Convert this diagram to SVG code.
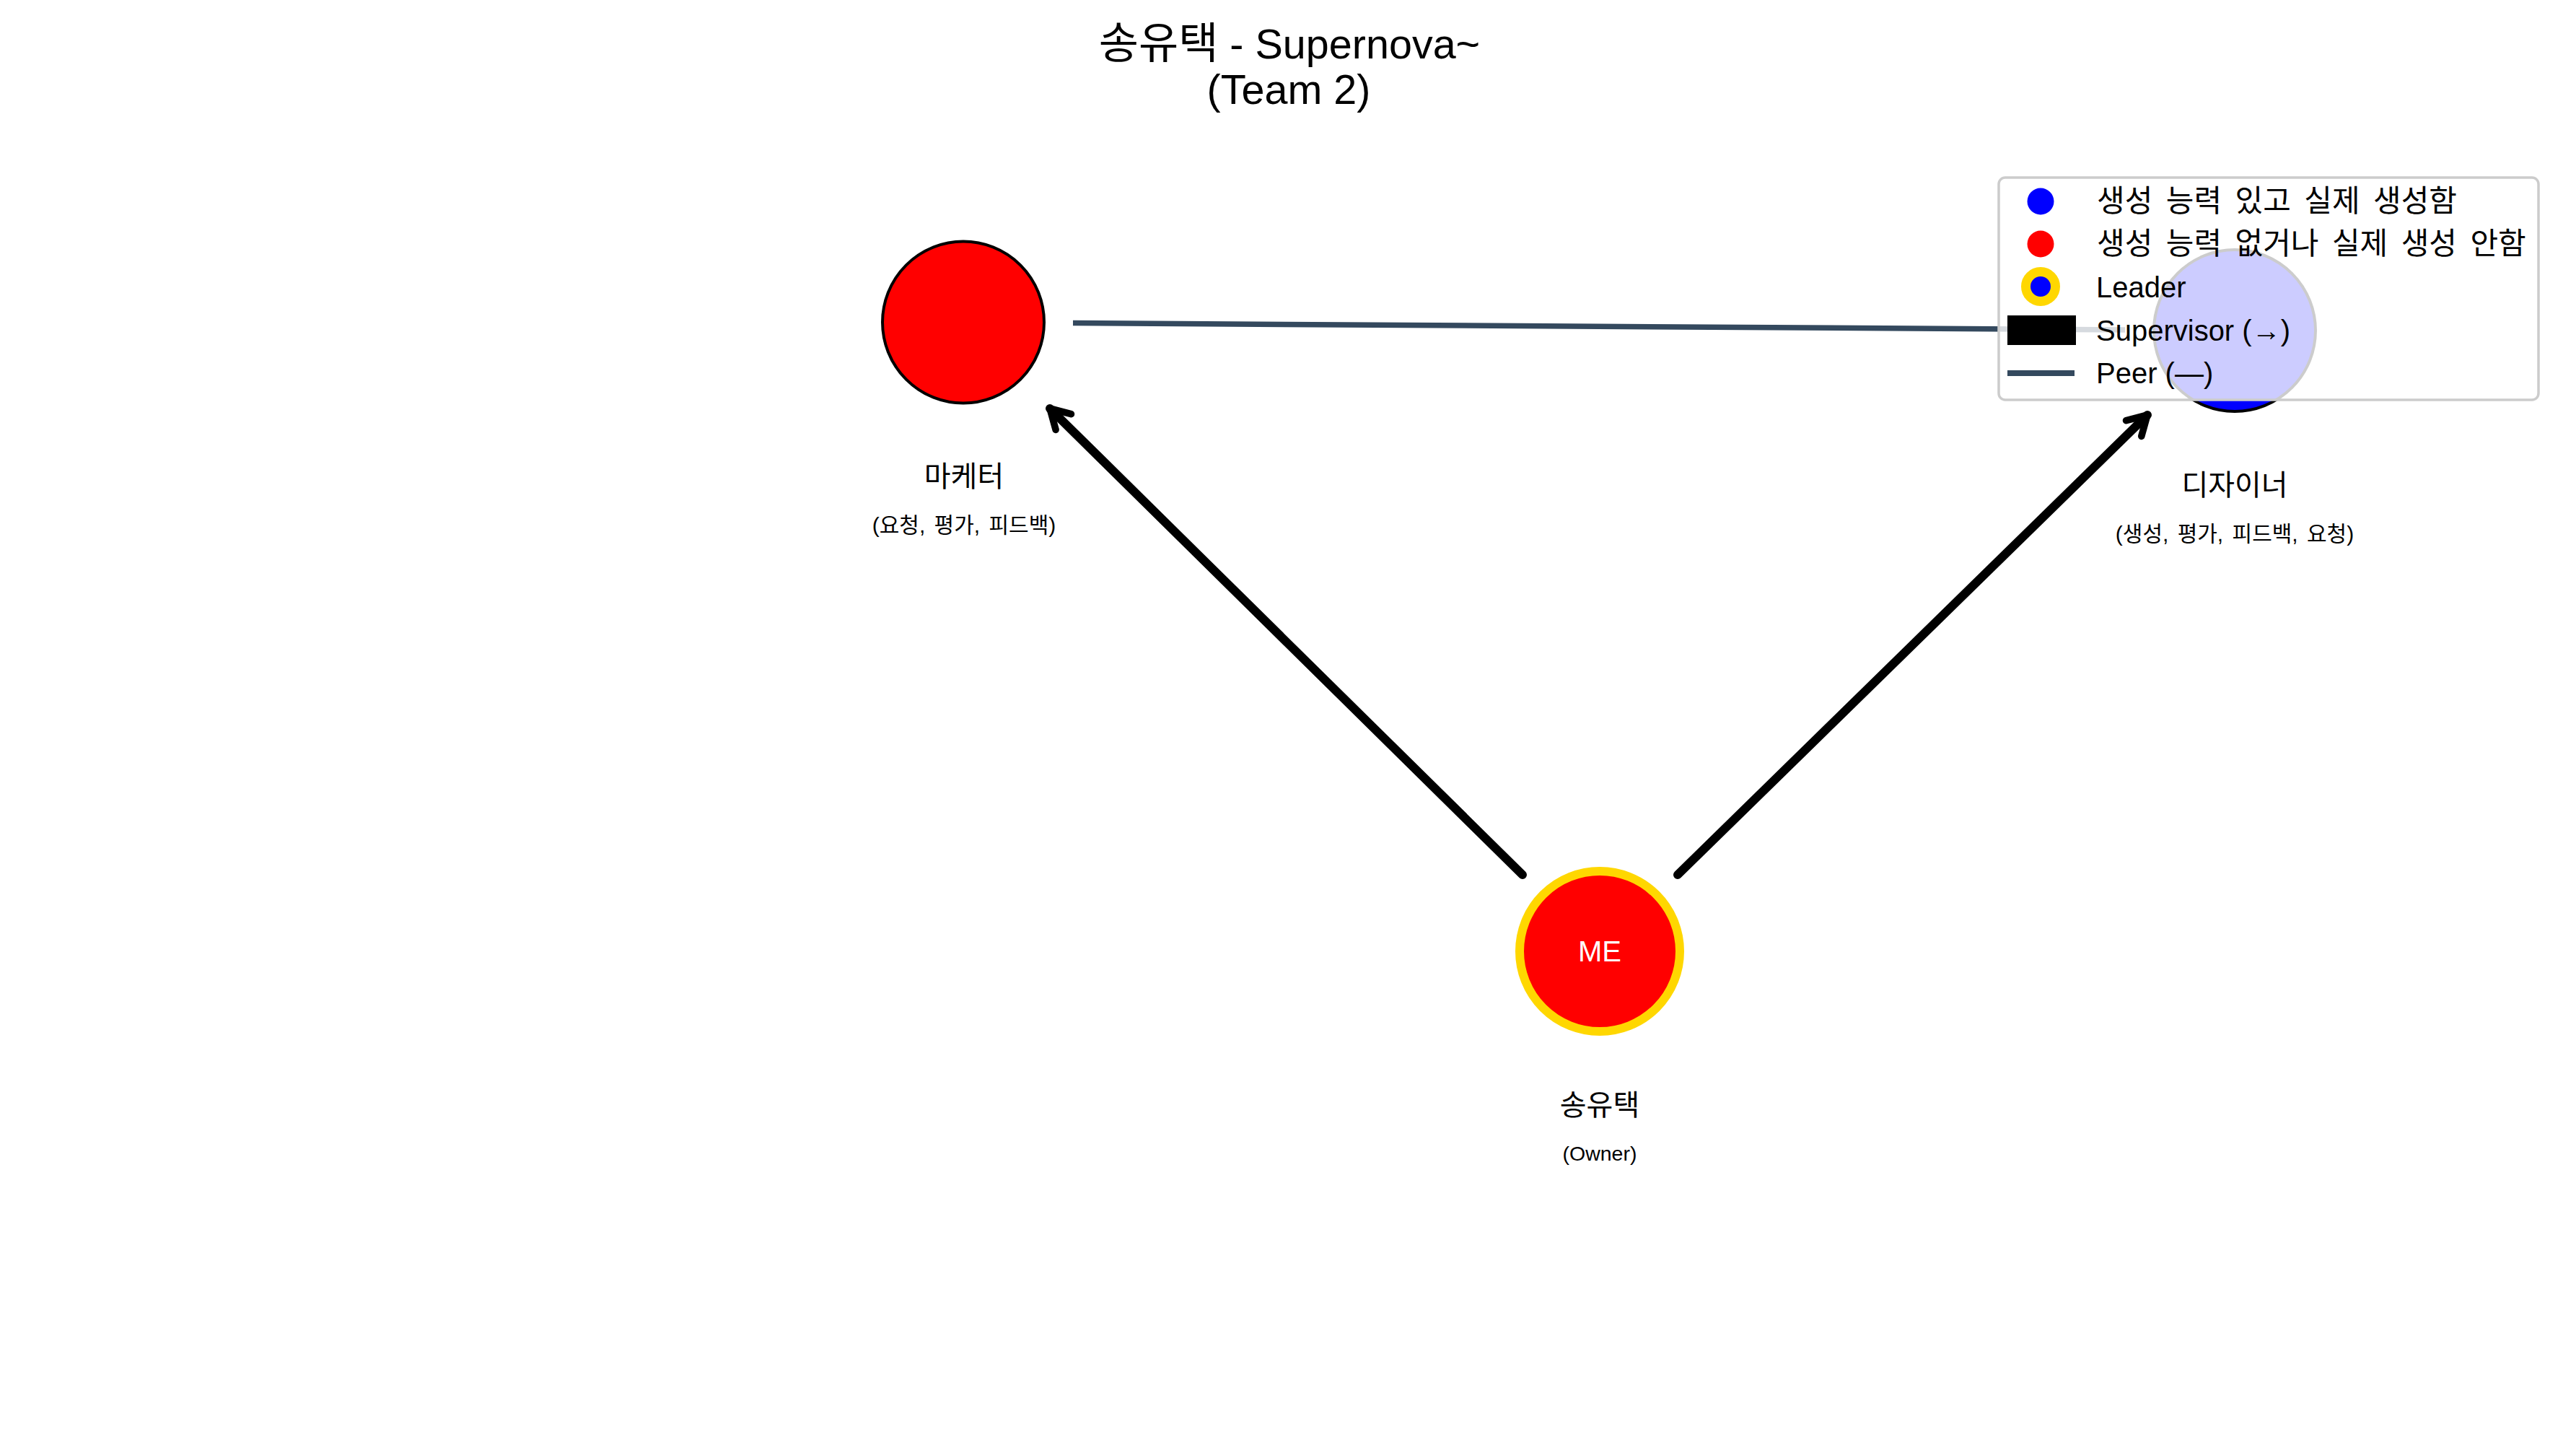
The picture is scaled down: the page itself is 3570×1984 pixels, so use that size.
<svg xmlns="http://www.w3.org/2000/svg" width="3570" height="1984" viewBox="0 0 3570 1984">
<style>
text { font-family: "Liberation Sans", "Noto Sans CJK KR", sans-serif; fill: #000; }
.title { font-size: 57.5px; text-anchor: middle; }
.lbl { font-size: 40px; text-anchor: middle; }
.sub { font-size: 30px; text-anchor: middle; word-spacing: 4px; }
.own { font-size: 28.5px; text-anchor: middle; }
.me { font-size: 40px; text-anchor: middle; fill: #fff; }
.leg { font-size: 40px; }
.legk { font-size: 42px; word-spacing: 6.8px; }
.node { stroke: #000; stroke-width: 4; }
.sup { stroke: #000; stroke-width: 12; stroke-linecap: round; fill: none; }
.peer { stroke: #34495e; stroke-width: 7.5; stroke-linecap: butt; }
</style>
<defs>
<marker id="head" markerUnits="userSpaceOnUse" orient="auto" markerWidth="80" markerHeight="80" viewBox="-50 -40 100 80" refX="0" refY="0" overflow="visible">
<path d="M -33,-19 L 0,0 L -33,19" fill="none" stroke="#000" stroke-width="12" stroke-linecap="round" stroke-linejoin="round"/>
</marker>
</defs>
<rect x="0" y="0" width="3570" height="1984" fill="#fff"/>
<text class="title" x="1787" y="81"><tspan font-size="60px">송유택</tspan> - Supernova~</text>
<text class="title" x="1786" y="144">(Team 2)</text>
<g id="connectors">
<line class="peer" x1="1487" y1="447.5" x2="2945" y2="457"/>
<line class="sup" x1="2110" y1="1212" x2="1455" y2="566" marker-end="url(#head)"/>
<line class="sup" x1="2325" y1="1212" x2="2976" y2="575" marker-end="url(#head)"/>
</g>
<g id="node-marketer">
<circle class="node" cx="1335" cy="446.5" r="112" fill="#ff0000"/>
<text class="lbl" x="1336" y="674">마케터</text>
<text class="sub" x="1336" y="738">(요청, 평가, 피드백)</text>
</g>
<g id="node-designer">
<circle class="node" cx="3097" cy="458" r="112" fill="#0000ff"/>
<text class="lbl" x="3097" y="686">디자이너</text>
<text class="sub" x="3097" y="750">(생성, 평가, 피드백, 요청)</text>
</g>
<g id="node-me">
<circle cx="2217" cy="1318" r="111" fill="#ff0000" stroke="#ffd700" stroke-width="12"/>
<text class="me" x="2217" y="1332">ME</text>
<text class="lbl" x="2217" y="1545">송유택</text>
<text class="own" x="2217" y="1608">(Owner)</text>
</g>
<g id="legend">
<rect x="2770" y="246" width="748" height="308" rx="9" fill="#fff" fill-opacity="0.8" stroke="#cccccc" stroke-width="3.5"/>
<circle cx="2828" cy="279" r="18.5" fill="#0000ff"/>
<text class="legk" x="2906" y="293">생성 능력 있고 실제 생성함</text>
<circle cx="2828" cy="338" r="18.5" fill="#ff0000"/>
<text class="legk" x="2906" y="352">생성 능력 없거나 실제 생성 안함</text>
<circle cx="2828" cy="397" r="20.5" fill="#0000ff" stroke="#ffd700" stroke-width="13"/>
<text class="leg" x="2905" y="412">Leader</text>
<rect x="2782" y="437" width="95" height="41" fill="#000"/>
<text class="leg" x="2905" y="472">Supervisor (→)</text>
<line x1="2782" y1="517" x2="2875" y2="517" stroke="#34495e" stroke-width="8"/>
<text class="leg" x="2905" y="531">Peer (—)</text>
</g>
</svg>
